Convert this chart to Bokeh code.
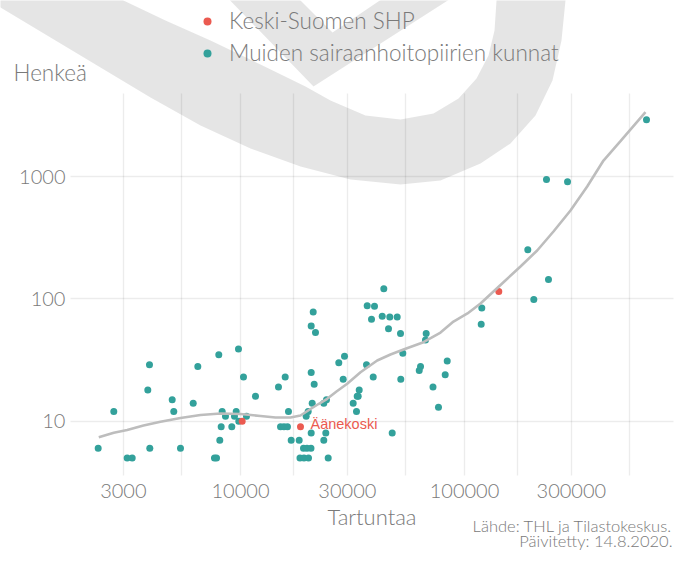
from bokeh.plotting import figure
from bokeh.models import (FixedTicker, NumeralTickFormatter, Label, PolyAnnotation,
                          Legend, LegendItem, ColumnDataSource, Grid)
from bokeh.core.properties import value
from bokeh.embed import file_html
from bokeh.resources import INLINE

# ---------------- data ----------------
muut_x = [2316, 2719, 3120, 3285, 3857, 3924, 3937, 4956, 5037, 5397,
          6150, 6449, 7654, 7815, 8001, 8084, 8200, 8285, 8570, 9146,
          9402, 9568, 9796, 9826, 10313, 10636, 11668, 14778, 15834, 16377,
          15088, 15638, 16209, 16839, 18283, 18431, 19208, 20118, 19110, 19810,
          20640, 20683, 19647, 20053, 20897, 23546, 24206, 23546, 24034, 24634,
          21115, 20683, 21617, 20683, 21330, 27470, 29130, 28740, 31850, 32950,
          33530, 33190, 33880, 36520, 36780, 39650, 38450, 39130, 42930, 43630,
          46400, 50070, 45790, 47560, 51800, 51950, 53040, 63640, 62800, 67450,
          66970, 72340, 76540, 82010, 83730, 119450, 118740, 191700, 203900, 232300,
          237100, 288400, 649400]
muut_y = [6, 12, 5, 5, 18, 29, 6, 15, 12, 6,
          14, 28, 5, 5, 35, 7, 9, 12, 11, 9,
          11, 12, 39, 10, 23, 11, 16, 19, 23, 12,
          9, 9, 9, 7, 7, 5, 5, 5, 6, 6,
          6, 8, 11, 12, 14, 14, 15, 7, 8, 5,
          78, 60, 53, 25, 20, 30, 34, 22, 14, 12,
          16, 16, 18, 29, 88, 87, 68, 23, 72, 121,
          71, 71, 57, 8, 52, 22, 36, 28, 26, 52,
          46, 19, 13, 24, 31, 84, 62, 252, 99, 945,
          144, 905, 2907]

ks_x = [10176, 18530, 142260]
ks_y = [10, 9, 115]
ks_label = ["", "Äänekoski", ""]

smooth_x = [2330, 2719, 3120, 3689, 4394, 5397, 6629, 8141, 10000, 12284,
            14330, 16720, 18530, 20540, 22290, 24380, 26830, 29950, 34340, 40770,
            46730, 53430, 65600, 78150, 89300, 103100, 117900, 149300, 177800, 211100,
            249600, 297300, 353000, 417400, 497000, 642700]
smooth_y = [7.40, 8.04, 8.47, 9.22, 9.89, 10.62, 11.24, 11.56, 11.45, 11.03,
            10.72, 10.72, 11.13, 12.58, 13.82, 15.24, 17.49, 20.21, 25.15, 31.34,
            35.10, 38.55, 44.23, 53.08, 65.29, 75.92, 91.6, 136.8, 183.8, 248.5,
            355.2, 527.3, 828.6, 1351, 1943, 3354]

x_ticks = [3000, 10000, 30000, 100000, 300000]
y_ticks = [10, 100, 1000]
legend_labels = ["Keski-Suomen SHP", "Muiden sairaanhoitopiirien kunnat"]
x_title = "Tartuntaa"
y_title = "Henkeä"
caption = ["Lähde: THL ja Tilastokeskus.", "Päivitetty: 14.8.2020."]

# ---------------- styling / geometry ----------------
RED = "#eb5a50"
TEAL = "#33a19b"
TXT = "#7a7a7a"
FONT = "'Lato Light', Lato"

W, H = 678, 552
PX = (1742, 857000)
PY = (3.60, 4764)
RX = (848.5, 902300)
RY = (0.845, 27450)

p = figure(width=W, height=H, x_axis_type="log", y_axis_type="log",
           x_range=RX, y_range=RY,
           output_backend="svg", toolbar_location=None, min_border=0)
p.outline_line_color = None
p.background_fill_color = "white"
p.border_fill_color = "white"

minor_x = [(a * b) ** 0.5 for a, b in zip(x_ticks[:-1], x_ticks[1:])]
minor_x.append((x_ticks[-1] * x_ticks[-1] * 10 / 3) ** 0.5)
p.xaxis.ticker = FixedTicker(ticks=x_ticks, minor_ticks=minor_x)
p.yaxis.ticker = FixedTicker(ticks=y_ticks, minor_ticks=[])
p.xaxis.fixed_location = PY[0]
p.yaxis.fixed_location = PX[0]
p.xaxis.bounds = PX
p.yaxis.bounds = PY
for ax in (p.xaxis, p.yaxis):
    ax.formatter = NumeralTickFormatter(format="0")
    ax.axis_line_color = None
    ax.major_tick_line_color = None
    ax.minor_tick_line_color = None
    ax.major_tick_out = 0
    ax.major_tick_in = 0
    ax.minor_tick_out = 0
    ax.minor_tick_in = 0
    ax.major_label_text_font = FONT
    ax.major_label_text_font_size = "20px"
    ax.major_label_text_color = TXT
p.xaxis.major_label_standoff = 9
p.yaxis.major_label_standoff = 5
p.xaxis.axis_label = x_title
p.xaxis.axis_label_text_font = FONT
p.xaxis.axis_label_text_font_size = "22px"
p.xaxis.axis_label_text_font_style = "normal"
p.xaxis.axis_label_text_color = TXT
p.xaxis.axis_label_standoff = 1

has_cross = "cross_bounds" in Grid.properties()
for g in (p.xgrid, p.ygrid):
    g.grid_line_color = "black"
    g.grid_line_alpha = 0.075
    g.grid_line_width = 1.4
p.xgrid.minor_grid_line_color = "black"
p.xgrid.minor_grid_line_alpha = 0.075
p.xgrid.minor_grid_line_width = 1.4
p.xgrid.bounds = PX
p.ygrid.bounds = PY
if has_cross:
    p.xgrid.cross_bounds = PY
    p.ygrid.cross_bounds = PX
else:
    p.xgrid.visible = False
    p.ygrid.visible = False
    gx = x_ticks + minor_x[:-1]
    p.segment(x0=gx, x1=gx, y0=[PY[0]] * len(gx), y1=[PY[1]] * len(gx),
              line_color="black", line_alpha=0.075, line_width=1.4, level="underlay")
    p.segment(x0=[PX[0]] * 3, x1=[PX[1]] * 3, y0=y_ticks, y1=y_ticks,
              line_color="black", line_alpha=0.075, line_width=1.4, level="underlay")

# ---------------- watermark (decorative swoosh, screen px of the picture) ----------------
def scr(pts):
    return [x for x, _ in pts], [H - y for _, y in pts]

hook = [(-12, -12), (-12, 3), (0, 7), (50, 37), (100, 67), (150, 97), (200, 125),
        (250, 148), (300, 166), (350, 179), (400, 184), (440, 180), (480, 163),
        (510, 143), (535, 115), (552, 80), (561, 40), (565, 0), (566, -12),
        (496, -12), (496, 0), (494, 30), (488, 55), (476, 78), (458, 98),
        (433, 113), (400, 119), (365, 115), (330, 100), (305, 86), (260, 64),
        (210, 40), (165, 20), (123, 0), (117, -12)]
chev = [(218, -12), (313, 86), (466, -12), (397, -12), (332, 32), (288, -12)]
for shape in (hook, chev):
    xs, ys = scr(shape)
    p.add_layout(PolyAnnotation(xs=xs, ys=ys, xs_units="screen", ys_units="screen",
                                fill_color="black", fill_alpha=0.102,
                                line_color=None, level="image"))

# ---------------- glyphs ----------------
r_teal = p.scatter(muut_x, muut_y, size=7, color=TEAL, line_color=None)
r_red = p.scatter(ks_x, ks_y, size=7, color=RED, line_color=None)
p.line(smooth_x, smooth_y, line_color="#bdbdbd", line_width=2.6)

lab = ColumnDataSource(dict(x=[x for x, t in zip(ks_x, ks_label) if t],
                            y=[y for y, t in zip(ks_y, ks_label) if t],
                            t=[t for t in ks_label if t]))
p.text(x="x", y="y", text="t", source=lab, x_offset=10, y_offset=-3,
       text_font=value("Liberation Sans"), text_font_size="14.5px",
       text_color=RED, text_baseline="middle", text_align="left")

# ---------------- legend ----------------
legend = Legend(items=[LegendItem(label=legend_labels[0], renderers=[r_red]),
                       LegendItem(label=legend_labels[1], renderers=[r_teal])],
                location=(197, H - 66), orientation="vertical",
                padding=0, margin=0, spacing=5,
                label_height=22, glyph_height=22, glyph_width=20,
                label_standoff=12, label_text_font=FONT,
                label_text_font_size="22.5px", label_text_color=TXT,
                label_text_baseline="middle",
                border_line_color=None, background_fill_alpha=0)
p.add_layout(legend)

# ---------------- texts ----------------
p.add_layout(Label(x=13, y=H - 72, x_units="screen", y_units="screen",
                   text=y_title, text_font=FONT, text_font_size="22.5px",
                   text_color=TXT, text_baseline="middle"))
for i, line in enumerate(caption):
    p.add_layout(Label(x=672, y=H - (525 + 15 * i),
                       x_units="screen", y_units="screen",
                       text=line, text_font=FONT, text_font_size="16.5px",
                       text_color=TXT, text_baseline="middle", text_align="right"))

open("out.html", "w").write(file_html(p, INLINE))
